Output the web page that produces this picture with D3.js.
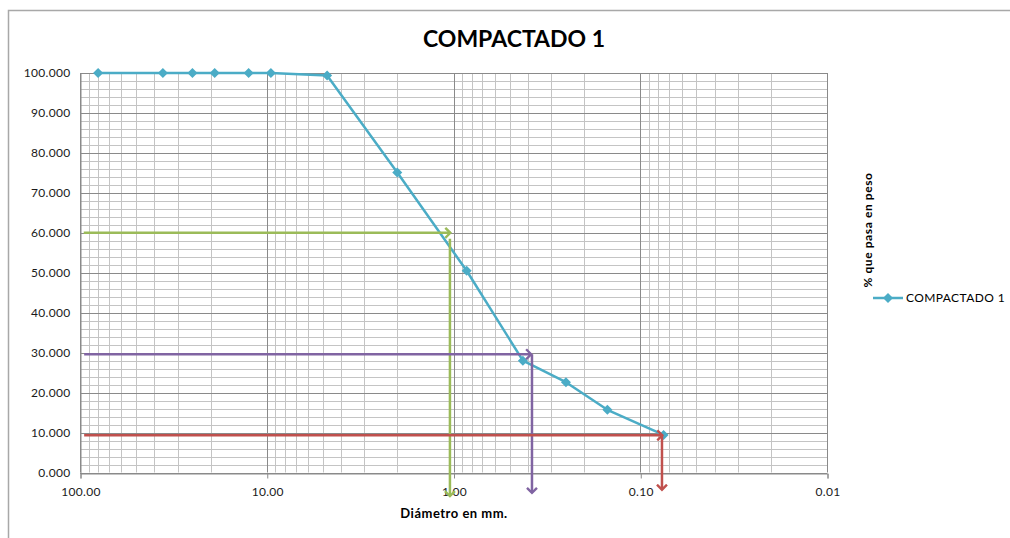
<!DOCTYPE html>
<html>
<head>
<meta charset="utf-8">
<script src="https://cdn.jsdelivr.net/npm/d3@7"></script>
<style>
  html, body { margin: 0; padding: 0; background: #fff; }
  svg text { font-family: Lato, "Open Sans", sans-serif; }
</style>
</head>
<body>
<svg id="chart" width="1010" height="538"></svg>
<script>
// Grain-size curve: sieve opening (mm) vs. percent passing by weight
const sieveMm = [80, 36, 25, 19, 12.5, 9.5, 4.75, 2.0, 0.85, 0.425, 0.25, 0.15, 0.075];
const passing = [100, 100, 100, 100, 100, 100, 99.4, 75.1, 50.5, 28.0, 22.6, 15.7, 9.4];
const seriesName = "COMPACTADO 1";

// Axis ticks
const xTicks = [100, 10, 1, 0.1, 0.01];
const xTickLabels = ["100.00", "10.00", "1.00", "0.10", "0.01"];
const yTicks = [0, 10, 20, 30, 40, 50, 60, 70, 80, 90, 100];
const yTickLabels = ["0.000", "10.000", "20.000", "30.000", "40.000", "50.000",
                     "60.000", "70.000", "80.000", "90.000", "100.000"];

// Reading guides for D60, D30, D10 (mm, % passing)
const guideD60 = [[95.5, 60], [1.04, 60]];
const guideD60Drop = [[1.045, 58.5], [1.045, -5.9]];
const guideD30 = [[95, 29.6], [0.384, 29.6]];
const guideD30Drop = [[0.38, 29.6], [0.38, -5.1]];
const guideD10 = [[95, 9.3], [0.0762, 9.3]];
const guideD10Drop = [[0.0765, 9.3], [0.0765, -4.3]];

const svg = d3.select("#chart");
const W = 1010, H = 538;
const plot = { left: 80, right: 827, top: 73, bottom: 472.5 };

const x = d3.scaleLog().domain([100, 0.01]).range([plot.left, plot.right]);
const y = d3.scaleLinear().domain([0, 100]).range([plot.bottom, plot.top]);

// Chart frame
svg.append("rect")
  .attr("x", 8.5).attr("y", 10.5)
  .attr("width", W + 10).attr("height", H + 10)
  .attr("fill", "#fff").attr("stroke", "#a8a8a8").attr("stroke-width", 1.5);

const minorColor = "#c4c4c4", majorColor = "#8a8a8a";
const crisp = v => Math.round(v) + 0.5;

// Minor horizontal gridlines every 2%
const yMinor = d3.range(0, 101, 2).filter(v => v % 10 !== 0);
svg.append("g").selectAll("line").data(yMinor).join("line")
  .attr("x1", plot.left).attr("x2", plot.right)
  .attr("y1", d => crisp(y(d))).attr("y2", d => crisp(y(d)))
  .attr("stroke", minorColor).attr("stroke-width", 1);

// Minor vertical gridlines (2..9 in each decade)
const xMinor = [];
[10, 1, 0.1, 0.01].forEach(base => { for (let k = 2; k <= 9; k++) xMinor.push(base * k); });
svg.append("g").selectAll("line").data(xMinor).join("line")
  .attr("x1", d => crisp(x(d))).attr("x2", d => crisp(x(d)))
  .attr("y1", plot.top).attr("y2", plot.bottom)
  .attr("stroke", minorColor).attr("stroke-width", 1);

// Major gridlines
svg.append("g").selectAll("line").data(yTicks).join("line")
  .attr("x1", plot.left).attr("x2", plot.right)
  .attr("y1", d => crisp(y(d))).attr("y2", d => crisp(y(d)))
  .attr("stroke", majorColor).attr("stroke-width", 1);
svg.append("g").selectAll("line").data(xTicks).join("line")
  .attr("x1", d => crisp(x(d))).attr("x2", d => crisp(x(d)))
  .attr("y1", plot.top).attr("y2", plot.bottom)
  .attr("stroke", majorColor).attr("stroke-width", 1);

// X axis (ticks below the plot)
const xAxis = d3.axisBottom(x).tickValues(xTicks)
  .tickFormat((d, i) => xTickLabels[i]).tickSizeOuter(0).tickSize(5).tickPadding(9);
const gx = svg.append("g").attr("transform", `translate(0.5,${crisp(y(0))})`).call(xAxis);
gx.select(".domain").attr("stroke", majorColor);
gx.selectAll(".tick line").attr("stroke", majorColor);
gx.selectAll(".tick text").attr("font-size", 12).attr("fill", "#1a1a1a")
  .attr("letter-spacing", "0.3px").attr("font-family", "Lato, sans-serif");

// Y axis labels
const yAxis = d3.axisLeft(y).tickValues(yTicks)
  .tickFormat((d, i) => yTickLabels[i]).tickSize(0).tickPadding(10);
const gy = svg.append("g").attr("transform", `translate(${crisp(plot.left)},0)`).call(yAxis);
gy.select(".domain").attr("stroke", majorColor);
gy.selectAll(".tick text").attr("font-size", 12).attr("fill", "#1a1a1a")
  .attr("letter-spacing", "0.3px").attr("font-family", "Lato, sans-serif");

// Series line and diamond markers
const seriesColor = "#4bacc6";
const pts = sieveMm.map((d, i) => [d, passing[i]]);
const line = d3.line().x(d => x(d[0])).y(d => y(d[1]));
svg.append("path").datum(pts).attr("d", line)
  .attr("fill", "none").attr("stroke", seriesColor).attr("stroke-width", 2.5)
  .attr("stroke-linejoin", "round");

const diamond = d3.symbol().type(d3.symbolDiamond2).size(64);
svg.append("g").selectAll("path").data(pts).join("path")
  .attr("transform", d => `translate(${x(d[0])},${y(d[1])})`)
  .attr("d", diamond).attr("fill", seriesColor);

// Guide arrows with open chevron heads
const defs = svg.append("defs");
function marker(id, color) {
  defs.append("marker").attr("id", id)
    .attr("viewBox", "-6 -6 12 12").attr("refX", 0).attr("refY", 0)
    .attr("markerWidth", 12).attr("markerHeight", 12)
    .attr("markerUnits", "userSpaceOnUse").attr("orient", "auto")
    .append("path").attr("d", "M-5,-5 L0,0 L-5,5")
    .attr("fill", "none").attr("stroke", color).attr("stroke-width", 2.4);
}
const guideColors = { g: "#9bbb59", p: "#8064a2", r: "#c0504d" };
marker("arrG", guideColors.g);
marker("arrP", guideColors.p);
marker("arrR", guideColors.r);

const guides = [
  [guideD60, "g", "arrG"], [guideD60Drop, "g", "arrG"],
  [guideD30, "p", "arrP"], [guideD30Drop, "p", "arrP"],
  [guideD10, "r", "arrR"], [guideD10Drop, "r", "arrR"]
];
guides.forEach(([data, c, m]) => {
  svg.append("path").datum(data).attr("d", line)
    .attr("fill", "none").attr("stroke", guideColors[c]).attr("stroke-width", 2.5)
    .attr("marker-end", `url(#${m})`);
});

// Title
svg.append("text").attr("x", 514).attr("y", 47).attr("text-anchor", "middle")
  .attr("font-size", 23).attr("font-weight", "bold").attr("fill", "#000")
  .text("COMPACTADO 1");

// Axis titles
svg.append("text").attr("x", 454).attr("y", 518).attr("text-anchor", "middle")
  .attr("font-size", 13).attr("font-weight", "bold").attr("fill", "#000")
  .attr("letter-spacing", "0.5px")
  .text("Diámetro en mm.");
svg.append("text").attr("transform", "translate(872,230) rotate(-90)")
  .attr("text-anchor", "middle").attr("font-size", 12).attr("font-weight", "bold")
  .attr("fill", "#000").attr("letter-spacing", "0.6px")
  .text("% que pasa en peso");

// Legend
const lg = svg.append("g").attr("transform", "translate(873,298)");
lg.append("line").attr("x1", 0).attr("x2", 30).attr("y1", 0).attr("y2", 0)
  .attr("stroke", seriesColor).attr("stroke-width", 2.5);
lg.append("path").attr("transform", "translate(15,0)").attr("d", diamond).attr("fill", seriesColor);
lg.append("text").attr("x", 33).attr("y", 4).attr("font-size", 12)
  .attr("letter-spacing", "0.4px").attr("fill", "#000").text(seriesName);
</script>
</body>
</html>
